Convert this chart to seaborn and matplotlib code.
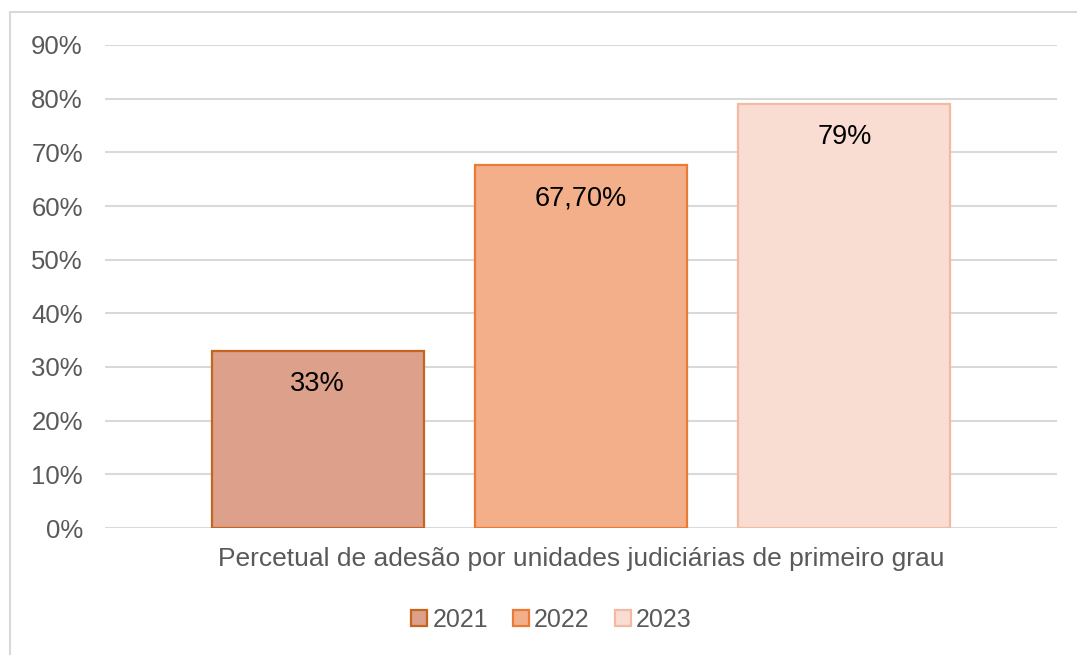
import pandas as pd
import matplotlib.pyplot as plt
import matplotlib.lines as mlines
import seaborn as sns

# data
categoria = "Percetual de adesão por unidades judiciárias de primeiro grau"
anos = ["2021", "2022", "2023"]
valores = [33, 67.7, 79]
rotulos = ["33%", "67,70%", "79%"]

cores = ["#DDA08A", "#F3AE8A", "#F9DCD2"]
bordas = ["#C5651F", "#EB7A34", "#F2B9A3"]

data = pd.DataFrame({"Categoria": [categoria] * 3, "Ano": anos, "Valor": valores})

sns.set_theme(style="white")
plt.rcParams['font.family'] = ['Liberation Sans', 'DejaVu Sans']

fig = plt.figure(figsize=(10.77, 6.55), dpi=100)
ax = fig.add_axes([105 / 1077, 1 - 528 / 655, (1057 - 105) / 1077, (528 - 45) / 655])

barplot = sns.barplot(x='Categoria', y='Valor', hue='Ano', data=data, palette=cores,
                      saturation=1, width=0.83, gap=0.195, ax=ax, legend=True, zorder=3)

for i, p in enumerate(barplot.patches[:3]):
    p.set_edgecolor(bordas[i])
    p.set_linewidth(1.6)
    barplot.annotate(rotulos[i],
                     (p.get_x() + p.get_width() / 2., p.get_height()),
                     ha='center', va='center',
                     xytext=(0, -24),
                     textcoords='offset points', fontsize=19.5, color='black')

ax.set_ylim(0, 90)
ax.set_yticks(range(0, 91, 10))
ax.set_yticklabels([f"{v}%" for v in range(0, 91, 10)], fontsize=18.5, color='#595959')
ax.yaxis.grid(True, color='#D9D9D9', linewidth=1.5, zorder=0)
ax.set_axisbelow(True)
ax.tick_params(axis='x', labelsize=19, labelcolor='#595959', pad=14, length=0)
ax.tick_params(axis='y', length=0, pad=16)
ax.set_xlabel('')
ax.set_ylabel('')
for s in ax.spines.values():
    s.set_visible(False)

handles, labels = ax.get_legend_handles_labels()
for i, h in enumerate(handles):
    h.set_edgecolor(bordas[i])
    h.set_linewidth(1.6)
ax.legend(handles, labels, loc='center', bbox_to_anchor=(0.469, -0.19), ncol=3,
          frameon=False, fontsize=18, labelcolor='#595959', handlelength=0.65,
          handleheight=0.65, handletextpad=0.2, columnspacing=1.0)

# border of chart area
fig.add_artist(mlines.Line2D([10 / 1077, 1], [1 - 12 / 655, 1 - 12 / 655], color='#D9D9D9', linewidth=1.5))
fig.add_artist(mlines.Line2D([10 / 1077, 10 / 1077], [0, 1 - 12 / 655], color='#D9D9D9', linewidth=1.5))

plt.savefig("out.png", dpi=100)
